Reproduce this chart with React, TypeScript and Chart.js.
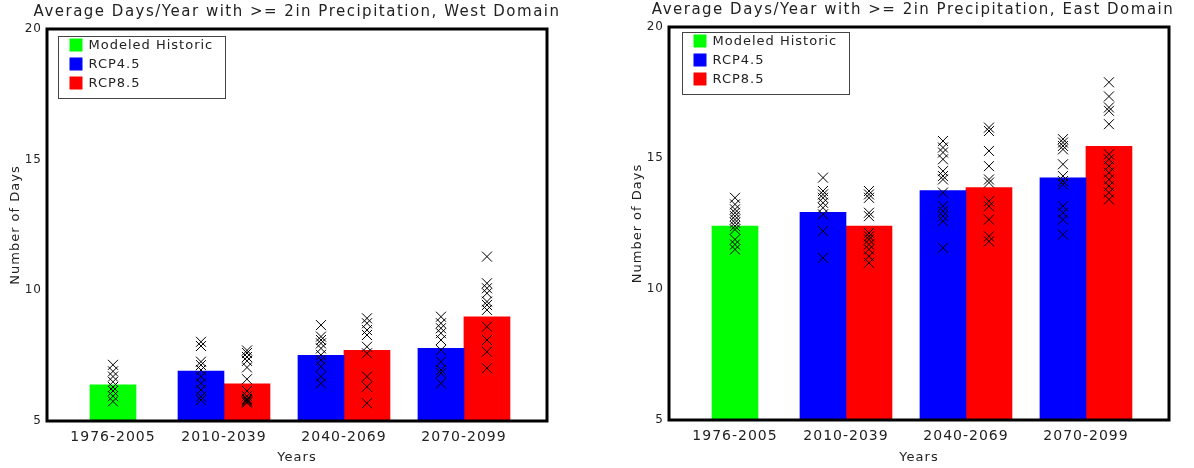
import { useEffect, useRef } from 'react';
import { Chart, registerables } from 'chart.js';

Chart.register(...registerables);

// Time periods and where each one sits along the x axis
const periods = ['1976-2005', '2010-2039', '2040-2069', '2070-2099'];
const periodPos = [0.075, 1, 2, 3];
const seriesNames = ['Modeled Historic', 'RCP4.5', 'RCP8.5'];
const seriesColors = ['#00ff00', '#0000ff', '#ff0000'];

// West Domain: ensemble means (bars)
const westHistoric = [6.38, null, null, null];
const westRcp45 = [null, 6.91, 7.51, 7.78];
const westRcp85 = [null, 6.42, 7.7, 8.99];

// West Domain: individual model values (x markers)
const westHistoricModels = [[7.15, 6.9, 6.7, 6.5, 6.3, 6.15, 5.95, 5.75], [], [], []];
const westRcp45Models = [
  [],
  [8.03, 7.87, 7.27, 7.14, 6.95, 6.7, 6.44, 6.19, 5.93, 5.8],
  [8.67, 8.23, 8.1, 7.97, 7.78, 7.53, 7.33, 7.08, 6.7, 6.44],
  [8.99, 8.74, 8.55, 8.36, 8.1, 7.72, 7.27, 6.95, 6.83, 6.44],
];
const westRcp85Models = [
  [],
  [7.7, 7.6, 7.45, 7.3, 7.05, 6.6, 6.15, 5.95, 5.85, 5.8, 5.75, 5.7],
  [8.93, 8.74, 8.48, 8.29, 7.84, 7.59, 6.7, 6.31, 5.68],
  [11.29, 10.27, 10.08, 9.89, 9.57, 9.44, 9.25, 8.61, 8.1, 7.65, 7.02],
];

// East Domain: ensemble means (bars)
const eastHistoric = [12.4, null, null, null];
const eastRcp45 = [null, 12.93, 13.76, 14.24];
const eastRcp85 = [null, 12.4, 13.87, 15.45];

// East Domain: individual model values (x markers)
const eastHistoricModels = [
  [13.48, 13.23, 13.04, 12.91, 12.78, 12.65, 12.53, 12.4, 12.27, 11.89, 11.7, 11.51],
  [],
  [],
  [],
];
const eastRcp45Models = [
  [],
  [14.25, 13.74, 13.61, 13.48, 13.29, 13.1, 12.85, 12.21, 11.19],
  [15.65, 15.4, 15.21, 14.95, 14.5, 14.31, 14.18, 13.68, 13.16, 12.97, 12.78, 12.59, 11.57],
  [15.72, 15.59, 15.46, 15.33, 14.76, 14.31, 14.12, 13.99, 13.16, 12.91, 12.65, 12.08],
];
const eastRcp85Models = [
  [],
  [13.74, 13.61, 13.48, 12.91, 12.78, 12.14, 12.01, 11.89, 11.7, 11.51, 11.25, 11.0],
  [16.16, 16.03, 15.27, 14.69, 14.18, 14.06, 13.35, 13.16, 12.65, 12.01, 11.82],
  [17.89, 17.35, 16.93, 16.8, 16.29, 15.14, 14.95, 14.69, 14.44, 14.18, 13.93, 13.68, 13.42],
];

const yTicks = [5, 10, 15, 20];

const FONT = 'DejaVu Sans';
const TEXT = '#222';

const toPoints = (vals: (number | null)[]) => periodPos.map((x, i) => ({ x, y: vals[i] }));

const spacingPlugin = {
  id: 'spacing',
  beforeUpdate(chart: any) {
    chart.ctx.letterSpacing = '1px';
  },
  beforeDraw(chart: any) {
    chart.ctx.letterSpacing = '1px';
  },
};

const titlePlugin = {
  id: 'plotTitle',
  afterDraw(chart: any, _args: any, opts: any) {
    const { ctx, chartArea } = chart;
    ctx.save();
    ctx.letterSpacing = '1.5px';
    ctx.font = `15px "${FONT}"`;
    ctx.fillStyle = TEXT;
    ctx.textAlign = 'center';
    ctx.textBaseline = 'middle';
    ctx.fillText(opts.text, (chartArea.left + chartArea.right) / 2 + opts.shift, chartArea.top - opts.gap);
    ctx.restore();
  },
};

const markersPlugin = {
  id: 'modelMarkers',
  afterDatasetsDraw(chart: any, _args: any, opts: any) {
    const { ctx } = chart;
    const y = chart.scales.y;
    ctx.save();
    ctx.strokeStyle = '#000';
    ctx.lineWidth = 1;
    opts.models.forEach((byPeriod: number[][], d: number) => {
      const meta = chart.getDatasetMeta(d);
      byPeriod.forEach((vals, i) => {
        const bar = meta.data[i];
        if (!bar || !vals.length) return;
        const cx = bar.x;
        vals.forEach((v) => {
          const cy = y.getPixelForValue(v);
          ctx.beginPath();
          ctx.moveTo(cx - 5, cy - 5);
          ctx.lineTo(cx + 5, cy + 5);
          ctx.moveTo(cx - 5, cy + 5);
          ctx.lineTo(cx + 5, cy - 5);
          ctx.stroke();
        });
      });
    });
    ctx.restore();
  },
};

const legendPlugin = {
  id: 'boxLegend',
  afterDraw(chart: any, _args: any, opts: any) {
    const { ctx, chartArea } = chart;
    const bx = Math.round(chartArea.left + opts.dx) + 0.5;
    const by = Math.round(chartArea.top + opts.dy) + 0.5;
    ctx.save();
    ctx.strokeStyle = '#444';
    ctx.lineWidth = 1;
    ctx.strokeRect(bx, by, 167, 62);
    ctx.font = `13px "${FONT}"`;
    ctx.textBaseline = 'middle';
    ctx.textAlign = 'left';
    chart.data.datasets.forEach((ds: any, i: number) => {
      const rowY = by + 2 + i * 19;
      ctx.fillStyle = ds.backgroundColor;
      ctx.fillRect(bx + 11, rowY, 13, 13);
      ctx.fillStyle = TEXT;
      ctx.fillText(ds.label, bx + 30, rowY + 7);
    });
    ctx.restore();
  },
};

const framePlugin = {
  id: 'frame',
  afterDraw(chart: any) {
    const { ctx, chartArea } = chart;
    ctx.save();
    ctx.strokeStyle = '#000';
    ctx.lineWidth = 3;
    ctx.strokeRect(chartArea.left, chartArea.top, chartArea.right - chartArea.left, chartArea.bottom - chartArea.top);
    ctx.restore();
  },
};

type DomainProps = {
  title: string;
  historic: (number | null)[];
  rcp45: (number | null)[];
  rcp85: (number | null)[];
  models: number[][][];
  padLeft: number;
  padRight: number;
  padTop: number;
  xHeight: number;
  titleGap: number;
  titleShift: number;
  legendDx: number;
  legendDy: number;
};

function DomainChart(p: DomainProps) {
  const ref = useRef<HTMLCanvasElement>(null);

  useEffect(() => {
    const tickFont = { family: FONT, size: 14 };
    const chart = new Chart(ref.current as HTMLCanvasElement, {
      type: 'bar',
      data: {
        datasets: [
          { label: seriesNames[0], data: toPoints(p.historic), backgroundColor: seriesColors[0] },
          { label: seriesNames[1], data: toPoints(p.rcp45), backgroundColor: seriesColors[1] },
          { label: seriesNames[2], data: toPoints(p.rcp85), backgroundColor: seriesColors[2] },
        ] as any,
      },
      options: {
        responsive: false,
        animation: false,
        layout: { padding: { left: p.padLeft, right: p.padRight, top: p.padTop, bottom: 0 } },
        datasets: { bar: { barThickness: 46, skipNull: true, borderWidth: 0 } as any },
        plugins: {
          legend: { display: false },
          tooltip: { enabled: false },
          title: { display: false },
          plotTitle: { text: p.title, gap: p.titleGap, shift: p.titleShift },
          modelMarkers: { models: p.models },
          boxLegend: { dx: p.legendDx, dy: p.legendDy },
        } as any,
        scales: {
          x: {
            type: 'linear',
            offset: false,
            min: -0.475,
            max: 3.692,
            grid: { display: false, drawTicks: false, offset: false },
            border: { display: false },
            afterBuildTicks: (s: any) => {
              s.ticks = periodPos.map((value) => ({ value }));
            },
            afterFit: (s: any) => {
              s.height = p.xHeight;
            },
            ticks: {
              autoSkip: false,
              maxRotation: 0,
              padding: 8,
              font: tickFont,
              color: TEXT,
              callback: (_v: any, i: number) => periods[i],
            },
            title: {
              display: true,
              text: 'Years',
              font: { family: FONT, size: 13 },
              color: TEXT,
              padding: { top: 0, bottom: 3 },
            },
          },
          y: {
            min: 5,
            max: 20,
            grid: { display: false, drawTicks: false },
            border: { display: false },
            afterBuildTicks: (s: any) => {
              s.ticks = yTicks.map((value) => ({ value }));
            },
            afterFit: (s: any) => {
              s.width = 47;
            },
            ticks: { padding: 5, font: { family: FONT, size: 12 }, color: TEXT },
            title: {
              display: true,
              text: 'Number of Days',
              font: { family: FONT, size: 13 },
              color: TEXT,
              padding: { top: 8, bottom: 0 },
            },
          },
        } as any,
      },
      plugins: [spacingPlugin, markersPlugin, framePlugin, legendPlugin, titlePlugin],
    });
    return () => chart.destroy();
  }, []);

  return <canvas ref={ref} width={597} height={468} style={{ display: 'block' }} />;
}

export default function App() {
  return (
    <div style={{ position: 'absolute', left: 0, top: 0, width: 1194, height: 468, display: 'flex', background: '#fff' }}>
      <DomainChart
        title="Average Days/Year with >= 2in Precipitation, West Domain"
        historic={westHistoric}
        rcp45={westRcp45}
        rcp85={westRcp85}
        models={[westHistoricModels, westRcp45Models, westRcp85Models]}
        padLeft={0}
        padRight={50}
        padTop={29}
        xHeight={47}
        titleGap={17}
        titleShift={0}
        legendDx={11}
        legendDy={7}
      />
      <DomainChart
        title="Average Days/Year with >= 2in Precipitation, East Domain"
        historic={eastHistoric}
        rcp45={eastRcp45}
        rcp85={eastRcp85}
        models={[eastHistoricModels, eastRcp45Models, eastRcp85Models]}
        padLeft={25}
        padRight={25}
        padTop={27}
        xHeight={48}
        titleGap={17}
        titleShift={-6}
        legendDx={13}
        legendDy={5}
      />
    </div>
  );
}
